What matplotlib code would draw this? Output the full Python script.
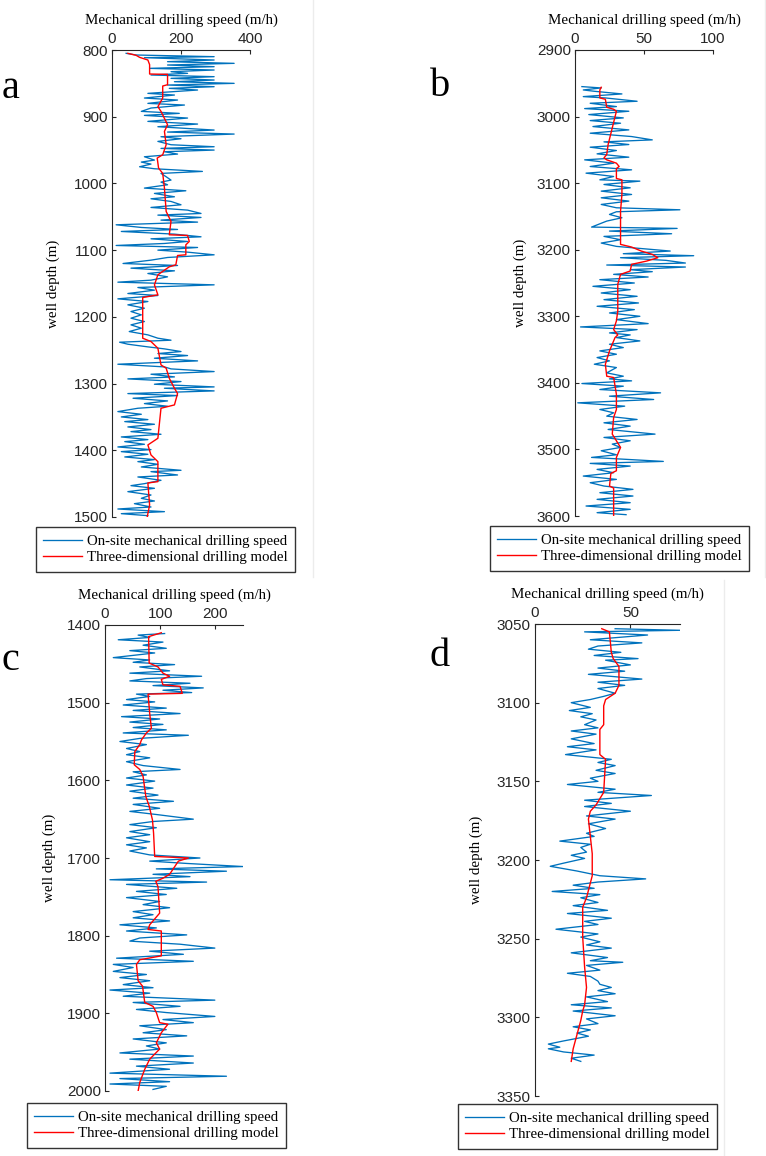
import matplotlib
matplotlib.use('Agg')
import matplotlib.pyplot as plt
from matplotlib.lines import Line2D

# ---- panel a : 800-1500 m ----
a_depth = [805, 807.5, 810, 811.5, 815, 817.5, 820, 822.5, 825, 827.5, 830, 832.5, 835, 837.5, 840, 842.5, 845, 847.5,
           850, 852.5, 855, 857.5, 860, 865, 867.5, 872, 875, 880, 882.5, 887, 892, 895, 898, 902, 907, 911, 915, 920,
           923, 926, 930, 933, 937, 942, 945, 947.5, 950, 952.5, 956, 960, 965, 968, 971, 975, 978, 982, 985, 990, 995,
           998, 1002, 1007, 1011, 1015, 1020, 1023, 1027, 1032, 1036, 1040, 1045, 1047.5, 1051, 1055, 1058, 1062, 1066,
           1069, 1072, 1076, 1080, 1083, 1087, 1090, 1093, 1096, 1100, 1103, 1107, 1111, 1115, 1120, 1123, 1127, 1131,
           1135, 1140, 1145, 1148, 1152, 1156, 1160, 1165, 1168, 1173, 1177, 1182, 1187, 1192, 1197, 1202, 1207, 1212,
           1217, 1222, 1227, 1232, 1235, 1238, 1241, 1245, 1248, 1252, 1255, 1258, 1262, 1266, 1271, 1275, 1278, 1282,
           1286, 1290, 1293, 1297, 1301, 1305, 1307, 1311, 1315, 1318, 1322, 1326, 1330, 1334, 1337, 1342, 1346, 1350,
           1354, 1357, 1361, 1365, 1369, 1372, 1376, 1380, 1384, 1387, 1391, 1395, 1399, 1402, 1406, 1410, 1414, 1417,
           1421, 1425, 1430, 1432, 1437, 1440, 1445, 1450, 1453, 1457, 1462, 1467, 1472, 1476, 1480, 1485, 1488, 1492,
           1495, 1498]
a_speed = [41, 70, 296, 94, 296, 161, 354, 161, 296, 109, 296, 171, 219, 113, 296, 171, 296, 181, 354, 161, 296, 166, 248,
           104, 181, 94, 190, 104, 210, 113, 85, 195, 94, 219, 104, 248, 133, 296, 161, 354, 142, 200, 133, 171, 296, 142,
           296, 152, 190, 94, 123, 85, 113, 80, 123, 262, 142, 157, 171, 142, 161, 94, 214, 123, 181, 113, 171, 200, 113,
           219, 258, 133, 258, 142, 248, 12, 85, 190, 27, 181, 258, 113, 219, 152, 12, 248, 133, 219, 296, 161, 113, 32,
           190, 55, 181, 104, 161, 113, 17, 296, 75, 123, 46, 133, 17, 104, 46, 94, 55, 85, 55, 94, 55, 85, 50, 104, 133,
           171, 22, 46, 104, 152, 200, 133, 219, 123, 248, 17, 152, 171, 296, 113, 181, 46, 200, 123, 296, 152, 296, 46,
           190, 61, 161, 94, 161, 75, 17, 85, 27, 104, 37, 123, 46, 113, 55, 142, 27, 104, 37, 94, 17, 113, 27, 104, 37,
           123, 75, 133, 85, 200, 113, 190, 75, 142, 94, 55, 123, 46, 113, 85, 123, 65, 113, 17, 152, 27, 104]
a_model_depth = [805, 808, 811, 815, 822, 836, 836.5, 852, 854, 872, 885, 892, 912, 922, 942, 957, 962, 977, 985, 1007,
                 1042, 1057, 1077, 1078, 1087, 1092, 1107, 1108, 1122, 1125, 1130, 1137, 1152, 1167, 1171, 1232, 1237,
                 1247, 1272, 1277, 1292, 1307, 1315, 1332, 1337, 1382, 1392, 1407, 1417, 1447, 1449, 1482, 1500]
a_model_speed = [46, 70, 80, 104, 109, 109, 161, 161, 147, 147, 133, 142, 161, 152, 157, 147, 131, 135, 147, 152,
                 157, 171, 166, 219, 224, 214, 214, 190, 185, 166, 152, 133, 123, 133, 89, 89, 113, 133, 142, 157, 166,
                 181, 190, 181, 142, 133, 104, 113, 133, 133, 104, 109, 102]

# ---- panel b : 2900-3600 m ----
b_depth = [2955, 2957, 2960, 2962, 2966, 2970, 2972, 2977, 2980, 2985, 2988, 2992, 2997, 3002, 3006, 3010, 3015, 3020,
           3025, 3030, 3035, 3038, 3042, 3046, 3051, 3056, 3061, 3065, 3070, 3075, 3080, 3085, 3090, 3095, 3097, 3102,
           3107, 3112, 3117, 3122, 3127, 3132, 3137, 3140, 3143, 3147, 3152, 3157, 3166, 3168, 3172, 3176, 3180, 3185,
           3190, 3195, 3198, 3202, 3206, 3209, 3212, 3216, 3220, 3223, 3226, 3230, 3233, 3237, 3241, 3245, 3250, 3255,
           3260, 3265, 3270, 3275, 3280, 3285, 3290, 3295, 3300, 3305, 3311, 3316, 3320, 3325, 3328, 3332, 3337, 3342,
           3347, 3352, 3357, 3362, 3367, 3372, 3377, 3385, 3390, 3394, 3397, 3401, 3405, 3410, 3415, 3420, 3425, 3430,
           3435, 3440, 3445, 3450, 3455, 3460, 3465, 3470, 3477, 3482, 3487, 3492, 3497, 3502, 3508, 3512, 3518, 3521,
           3525, 3530, 3535, 3540, 3545, 3550, 3555, 3560, 3565, 3570, 3575, 3580, 3585, 3590, 3595, 3598]
b_speed = [5, 19, 6, 14, 34, 6, 22, 45, 11, 30, 7, 39, 10, 35, 11, 33, 13, 39, 11, 41, 56, 21, 39, 11, 30, 16, 39, 7, 28,
           11, 41, 8, 28, 18, 47, 21, 40, 19, 41, 19, 39, 19, 30, 76, 30, 25, 34, 23, 12, 74, 25, 70, 21, 33, 19, 30, 47,
           69, 35, 86, 33, 66, 80, 23, 80, 40, 56, 28, 53, 18, 43, 13, 40, 19, 45, 21, 46, 16, 43, 25, 47, 30, 53, 4, 45,
           25, 40, 30, 47, 25, 35, 18, 30, 16, 25, 14, 30, 23, 35, 25, 41, 5, 35, 18, 62, 25, 57, 2, 36, 18, 28, 23, 45,
           21, 40, 24, 58, 21, 40, 27, 33, 19, 30, 12, 64, 11, 40, 16, 28, 6, 30, 11, 21, 42, 18, 42, 16, 40, 8, 40, 16,
           37]
b_model_depth = [2956, 2960, 2972, 2974, 2986, 2989, 2992, 3017, 3042, 3057, 3062, 3065, 3070, 3075, 3078, 3093, 3095,
                 3117, 3142, 3172, 3192, 3196, 3202, 3207, 3212, 3217, 3222, 3232, 3237, 3252, 3292, 3307, 3320, 3328,
                 3332, 3352, 3372, 3390, 3392, 3417, 3440, 3452, 3477, 3487, 3497, 3512, 3532, 3536, 3555, 3558, 3600]
b_model_speed = [19, 18, 18, 22, 23, 28, 30, 27, 24, 23, 21, 23, 30, 32, 30, 30, 34, 34, 33, 33, 33, 41, 48, 56, 60, 52,
                 41, 40, 33, 31, 31, 30, 28, 31, 29, 25, 22, 23, 28, 30, 30, 28, 27, 30, 33, 30, 30, 26, 25, 28, 28]

# ---- panel c : 1400-2000 m ----
c_depth = [1411, 1413, 1416, 1419, 1422, 1426, 1430, 1433, 1436, 1442, 1445, 1448, 1451, 1454, 1459, 1462, 1466, 1469,
           1472, 1475, 1478, 1481, 1484, 1487, 1489, 1492, 1496, 1499, 1503, 1507, 1510, 1514, 1518, 1521, 1525, 1528,
           1532, 1535, 1539, 1542, 1546, 1550, 1554, 1559, 1563, 1567, 1571, 1576, 1581, 1586, 1589, 1593, 1597, 1601,
           1606, 1610, 1614, 1619, 1623, 1627, 1631, 1636, 1640, 1644, 1650, 1653, 1657, 1661, 1666, 1670, 1674, 1679,
           1683, 1687, 1691, 1696, 1700, 1704, 1707, 1711, 1714, 1717, 1721, 1724, 1728, 1731, 1734, 1739, 1743, 1747,
           1751, 1756, 1760, 1764, 1769, 1773, 1777, 1781, 1786, 1790, 1794, 1799, 1803, 1807, 1811, 1816, 1820, 1824,
           1829, 1833, 1837, 1841, 1846, 1850, 1854, 1858, 1863, 1867, 1870, 1874, 1878, 1883, 1886, 1891, 1895, 1899,
           1904, 1908, 1912, 1916, 1921, 1925, 1929, 1933, 1938, 1942, 1946, 1951, 1955, 1959, 1964, 1968, 1972, 1977,
           1981, 1984, 1988, 1991, 1994, 1998]
c_speed = [108, 60, 81, 24, 105, 69, 111, 45, 90, 15, 81, 51, 126, 63, 117, 45, 175, 75, 45, 154, 87, 178, 105, 157, 57,
           81, 39, 90, 33, 111, 51, 136, 30, 99, 45, 105, 51, 111, 33, 151, 63, 27, 75, 39, 63, 39, 81, 39, 69, 136, 51,
           75, 39, 90, 39, 87, 45, 96, 51, 124, 51, 99, 45, 93, 160, 87, 45, 93, 45, 81, 39, 81, 39, 75, 45, 81, 172, 81,
           148, 250, 93, 220, 87, 154, 9, 184, 39, 130, 57, 111, 39, 99, 69, 117, 51, 87, 51, 117, 27, 93, 39, 148, 63,
           45, 136, 199, 81, 142, 21, 160, 15, 51, 15, 75, 27, 81, 33, 87, 9, 81, 33, 199, 51, 136, 57, 111, 199, 105,
           160, 63, 111, 69, 148, 51, 111, 75, 99, 27, 160, 45, 160, 57, 117, 9, 220, 27, 117, 9, 111, 87]
c_model_depth = [1410, 1415, 1449, 1454, 1462, 1466, 1470, 1477, 1479, 1488, 1489, 1514, 1533, 1539, 1548, 1554, 1563,
                 1580, 1586, 1595, 1621, 1633, 1651, 1668, 1698, 1700, 1704, 1721, 1726, 1730, 1737, 1771, 1786, 1792,
                 1794, 1826, 1831, 1837, 1858, 1865, 1886, 1891, 1899, 1912, 1914, 1925, 1938, 1946, 1959, 1972, 1989,
                 2000]
c_model_speed = [102, 79, 80, 96, 105, 117, 102, 105, 136, 140, 78, 81, 84, 75, 66, 63, 54, 53, 63, 69, 74, 80, 86, 88,
                 90, 151, 133, 117, 105, 92, 96, 99, 81, 78, 102, 102, 63, 57, 60, 68, 72, 87, 93, 99, 114, 102, 93, 99,
                 81, 72, 63, 60]

# ---- panel d : 3050-3350 m ----
d_depth = [3053, 3054, 3055, 3057, 3060, 3062, 3064, 3066, 3068, 3070, 3072, 3073, 3076, 3078, 3080, 3082, 3085, 3087,
           3089, 3091, 3094, 3096, 3098, 3100, 3103, 3105, 3107, 3109, 3111, 3114, 3116, 3118, 3120, 3123, 3126, 3128,
           3130, 3133, 3136, 3138, 3140, 3143, 3145, 3148, 3150, 3152, 3155, 3157, 3159, 3162, 3164, 3166, 3169, 3172,
           3174, 3177, 3180, 3183, 3185, 3188, 3190, 3192, 3195, 3197, 3199, 3202, 3204, 3207, 3210, 3212, 3214, 3216,
           3218, 3220, 3222, 3224, 3227, 3229, 3232, 3234, 3237, 3239, 3241, 3244, 3247, 3249, 3252, 3254, 3256, 3259,
           3262, 3264, 3265, 3267, 3270, 3272, 3274, 3277, 3279, 3281, 3283, 3285, 3287, 3290, 3292, 3294, 3296, 3299,
           3301, 3304, 3306, 3308, 3310, 3312, 3315, 3317, 3319, 3320, 3322, 3324, 3326, 3328]
d_speed = [42, 76, 26, 59, 29, 56, 33, 28, 45, 31, 54, 37, 50, 33, 47, 28, 56, 33, 47, 33, 42, 36, 29, 19, 29, 18, 30,
           24, 32, 26, 33, 19, 32, 19, 31, 17, 32, 16, 40, 33, 42, 32, 42, 29, 33, 17, 42, 33, 61, 26, 40, 26, 50, 27, 42,
           28, 37, 27, 31, 13, 29, 24, 27, 19, 26, 15, 8, 22, 34, 58, 33, 20, 31, 9, 34, 24, 33, 20, 38, 17, 40, 26, 33,
           11, 33, 24, 34, 27, 40, 19, 38, 29, 46, 27, 34, 17, 29, 33, 34, 40, 33, 42, 27, 38, 19, 40, 20, 42, 27, 33, 20,
           29, 22, 28, 15, 7, 13, 7, 15, 31, 19, 24]
d_model_depth = [3053, 3055, 3068, 3072, 3077, 3089, 3094, 3098, 3102, 3114, 3117, 3133, 3136, 3157, 3165, 3169, 3174,
                 3185, 3196, 3210, 3224, 3230, 3249, 3268, 3281, 3292, 3296, 3302, 3311, 3320, 3328]
d_model_speed = [35, 39, 40, 41, 44, 44, 42, 37, 36, 36, 34, 34, 37, 36, 32, 29, 28, 29, 30, 30, 27, 25, 25, 26, 27, 26,
                 25, 24, 22, 20, 19]

panels = [
    # letter, depth, speed, model depth, model speed, ylim, yticks, xlim, xticks,
    # axes box (px), legend corner (px), letter position (px), ylabel x (axes frac)
    ('a', a_depth, a_speed, a_model_depth, a_model_speed, (800, 1500), range(800, 1501, 100), 400, [0, 200, 400],
     (112, 50, 250, 517), (36, 527), (11, 88), -0.375),
    ('b', b_depth, b_speed, b_model_depth, b_model_speed, (2900, 3600), range(2900, 3601, 100), 100, [0, 50, 100],
     (575, 50, 713, 516), (490, 526), (440, 86), -0.35),
    ('c', c_depth, c_speed, c_model_depth, c_model_speed, (1400, 2000), range(1400, 2001, 100), 250, [0, 100, 200],
     (105, 625, 243, 1091), (27, 1103), (10, 660), -0.355),
    ('d', d_depth, d_speed, d_model_depth, d_model_speed, (3050, 3350), range(3050, 3351, 50), 76, [0, 50],
     (535, 624, 680, 1096), (458, 1104), (440, 656), -0.36),
]

W, H = 766, 1156
fig = plt.figure(figsize=(W / 100, H / 100), dpi=100)

serif = ['Liberation Serif', 'DejaVu Serif']
sans = ['Liberation Sans', 'DejaVu Sans']
blue = '#0072BD'
red = '#FF0000'
grey = '#262626'

# faint borders of the original sub-images
for x0, y0, y1 in [(313, 0, 577), (765, 0, 577), (724, 580, 1156)]:
    fig.add_artist(Line2D([x0 / W, x0 / W], [1 - y0 / H, 1 - y1 / H], color='#ececec', lw=1))

for letter, dep, spd, mdep, mspd, ylim, yticks, xmax, xticks, box, leg, lpos, labx in panels:
    l, t, r, b = box
    ax = fig.add_axes([l / W, 1 - b / H, (r - l) / W, (b - t) / H])
    ax.plot(spd, dep, color=blue, lw=0.95, label='On-site mechanical drilling speed')
    ax.plot(mspd, mdep, color=red, lw=1.0, label='Three-dimensional drilling model')
    ax.set_ylim(ylim[1], ylim[0])
    ax.set_xlim(0, xmax)
    ax.set_yticks(list(yticks))
    ax.set_xticks(xticks)
    ax.xaxis.tick_top()
    ax.xaxis.set_label_position('top')
    for s in ['right', 'bottom']:
        ax.spines[s].set_visible(False)
    for s in ['left', 'top']:
        ax.spines[s].set_color(grey)
        ax.spines[s].set_linewidth(0.8)
    ax.tick_params(direction='in', length=3, width=0.8, color=grey, labelcolor=grey, labelsize=11, pad=3)
    for tl in ax.get_xticklabels() + ax.get_yticklabels():
        tl.set_family(sans)
    ax.set_xlabel('Mechanical drilling speed (m/h)', family=serif, fontsize=10.8, labelpad=6)
    ax.set_ylabel('well depth (m)', family=serif, fontsize=10.8)
    ax.yaxis.set_label_coords(labx, 0.5)
    ax.patch.set_alpha(0)

    lg = ax.legend(loc='upper left', bbox_to_anchor=(leg[0] / W, 1 - leg[1] / H), bbox_transform=fig.transFigure,
                   prop={'family': serif, 'size': 10.7}, frameon=True, fancybox=False, handlelength=2.6,
                   borderpad=0.5, labelspacing=0.2, handletextpad=0.35, borderaxespad=0)
    lg.get_frame().set_edgecolor('black')
    lg.get_frame().set_linewidth(1.0)

    fig.text(lpos[0] / W, 1 - lpos[1] / H, letter, family=serif, fontsize=29, ha='center', va='center')

fig.savefig('out.png', dpi=100)
